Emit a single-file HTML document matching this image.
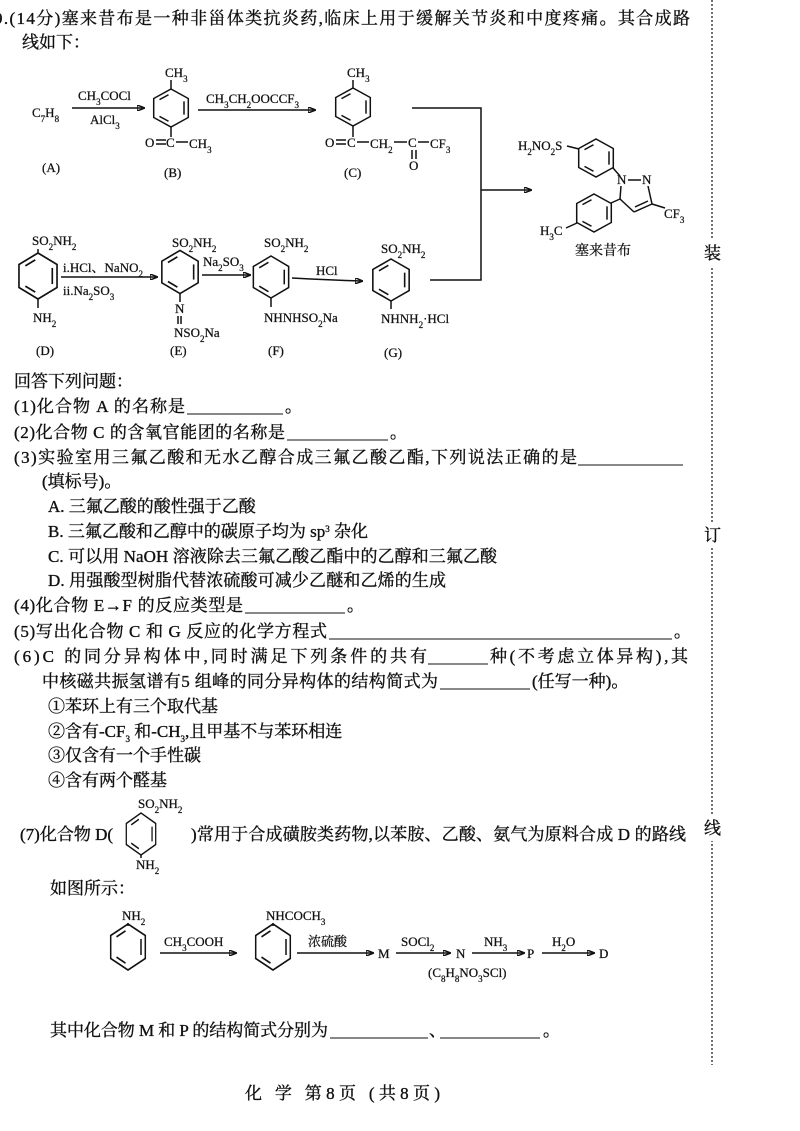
<!DOCTYPE html>
<html><head><meta charset="utf-8"><style>
html,body{margin:0;padding:0;background:#fff}
svg{display:block}
.t{font-family:"Liberation Serif","Noto Serif CJK SC",serif;font-size:17px;fill:#111;stroke:#111;stroke-width:0.35}
.c{font-family:"Liberation Serif","Noto Serif CJK SC",serif;font-size:13px;fill:#111;stroke:#111;stroke-width:0.25}
.b{font-size:9px;baseline-shift:sub}
.p{font-size:9px;baseline-shift:super}
line,polyline,path{stroke:#111;stroke-width:1.5;fill:none}
</style></head><body>
<svg width="800" height="1131" viewBox="0 0 800 1131" xmlns="http://www.w3.org/2000/svg">
<defs>
<symbol id="ring" overflow="visible">
<polygon points="0,-20 17.3,-10 17.3,10 0,20 -17.3,10 -17.3,-10" fill="none" stroke="#111" stroke-width="1.5"/>
<line x1="13" y1="-7" x2="13" y2="7" stroke="#111" stroke-width="1.5"/>
<line x1="-2.5" y1="14" x2="-11.5" y2="8.8" stroke="#111" stroke-width="1.5"/>
<line x1="-11.5" y1="-8.8" x2="-2.5" y2="-14" stroke="#111" stroke-width="1.5"/>
</symbol>
<marker id="ah" markerWidth="8" markerHeight="6" refX="7" refY="3" orient="auto" markerUnits="userSpaceOnUse"><path d="M0,0 L8,3 L0,6 z" fill="#111" stroke="none"/></marker>
</defs>

<text class="t" x="-6" y="24" textLength="696">9.(14分)塞来昔布是一种非甾体类抗炎药,临床上用于缓解关节炎和中度疼痛。其合成路</text>
<text class="t" x="22" y="48">线如下：</text>

<text class="c" x="32" y="117">C<tspan class="b">7</tspan>H<tspan class="b">8</tspan></text>
<line x1="72" y1="108" x2="144" y2="108" marker-end="url(#ah)"/>
<text class="c" x="78" y="100">CH<tspan class="b">3</tspan>COCl</text>
<text class="c" x="90" y="124">AlCl<tspan class="b">3</tspan></text>
<text class="c" x="42" y="172">(A)</text>

<use href="#ring" transform="translate(171,108) scale(1,0.95)"/>
<line x1="171" y1="89" x2="171" y2="80"/>
<text class="c" x="165" y="77">CH<tspan class="b">3</tspan></text>
<line x1="171" y1="127" x2="171" y2="137"/>
<text class="c" x="145" y="147">O</text>
<line x1="156" y1="140" x2="166" y2="140"/><line x1="156" y1="144" x2="166" y2="144"/>
<text class="c" x="166" y="147">C</text>
<line x1="176" y1="142" x2="188" y2="142"/>
<text class="c" x="189" y="148">CH<tspan class="b">3</tspan></text>
<text class="c" x="164" y="177">(B)</text>

<line x1="198" y1="110" x2="315" y2="110" marker-end="url(#ah)"/>
<text class="c" x="206" y="103">CH<tspan class="b">3</tspan>CH<tspan class="b">2</tspan>OOCCF<tspan class="b">3</tspan></text>

<use href="#ring" transform="translate(353,107) scale(1,0.95)"/>
<line x1="353" y1="88" x2="353" y2="80"/>
<text class="c" x="347" y="77">CH<tspan class="b">3</tspan></text>
<line x1="353" y1="126" x2="353" y2="137"/>
<text class="c" x="325" y="147">O</text>
<line x1="336" y1="140" x2="346" y2="140"/><line x1="336" y1="144" x2="346" y2="144"/>
<text class="c" x="347" y="147">C</text>
<line x1="357" y1="142" x2="369" y2="142"/>
<text class="c" x="370" y="148">CH<tspan class="b">2</tspan></text>
<line x1="394" y1="142" x2="407" y2="142"/>
<text class="c" x="408" y="147">C</text>
<line x1="418" y1="142" x2="429" y2="142"/>
<text class="c" x="430" y="148">CF<tspan class="b">3</tspan></text>
<line x1="412" y1="150" x2="412" y2="159"/><line x1="416" y1="150" x2="416" y2="159"/>
<text class="c" x="409" y="170">O</text>
<text class="c" x="344" y="177">(C)</text>

<polyline points="412,108 481,108 481,280 430,280"/>
<line x1="481" y1="190" x2="531" y2="190" marker-end="url(#ah)"/>

<text class="c" x="518" y="150">H<tspan class="b">2</tspan>NO<tspan class="b">2</tspan>S</text>
<line x1="567" y1="146" x2="579" y2="149"/>
<use href="#ring" transform="translate(596,158) scale(1,0.95)"/>
<line x1="613" y1="168" x2="620" y2="176"/>
<text class="c" x="617" y="184">N</text>
<line x1="628" y1="180" x2="641" y2="180"/>
<text class="c" x="642" y="184">N</text>
<line x1="648" y1="186" x2="652" y2="204"/>
<line x1="652" y1="204" x2="634" y2="212"/>
<line x1="648" y1="201" x2="635" y2="207"/>
<line x1="634" y1="212" x2="620" y2="199"/>
<line x1="620" y1="199" x2="621" y2="186"/>
<line x1="652" y1="204" x2="665" y2="208"/>
<text class="c" x="664" y="218">CF<tspan class="b">3</tspan></text>
<line x1="620" y1="199" x2="611" y2="203"/>
<use href="#ring" transform="translate(594,213) scale(1,0.95)"/>
<line x1="577" y1="223" x2="566" y2="228"/>
<text class="c" x="540" y="235">H<tspan class="b">3</tspan>C</text>
<text class="c" x="575" y="255" style="font-size:14px">塞来昔布</text>

<text class="c" x="32" y="245">SO<tspan class="b">2</tspan>NH<tspan class="b">2</tspan></text>
<line x1="38" y1="249" x2="38" y2="253"/>
<use href="#ring" transform="translate(38,276) scale(1.1,1.15)"/>
<line x1="38" y1="299" x2="38" y2="308"/>
<text class="c" x="33" y="322">NH<tspan class="b">2</tspan></text>
<text class="c" x="36" y="355">(D)</text>
<line x1="61" y1="277" x2="157" y2="277" marker-end="url(#ah)"/>
<text class="c" x="63" y="272">i.HCl、NaNO<tspan class="b">2</tspan></text>
<text class="c" x="63" y="295">ii.Na<tspan class="b">2</tspan>SO<tspan class="b">3</tspan></text>

<text class="c" x="172" y="247">SO<tspan class="b">2</tspan>NH<tspan class="b">2</tspan></text>
<use href="#ring" transform="translate(180,272) scale(1.05,1.08)"/>
<line x1="180" y1="294" x2="180" y2="302"/>
<text class="c" x="175" y="313">N</text>
<line x1="178" y1="316" x2="178" y2="324"/><line x1="181" y1="316" x2="181" y2="324"/>
<text class="c" x="174" y="337">NSO<tspan class="b">2</tspan>Na</text>
<text class="c" x="170" y="355">(E)</text>
<line x1="202" y1="275" x2="250" y2="275" marker-end="url(#ah)"/>
<text class="c" x="203" y="266">Na<tspan class="b">2</tspan>SO<tspan class="b">3</tspan></text>

<text class="c" x="264" y="247">SO<tspan class="b">2</tspan>NH<tspan class="b">2</tspan></text>
<use href="#ring" transform="translate(271,277) scale(1.02,1.05)"/>
<line x1="271" y1="298" x2="271" y2="307"/>
<text class="c" x="264" y="322">NHNHSO<tspan class="b">2</tspan>Na</text>
<text class="c" x="268" y="355">(F)</text>
<path d="M292,278 Q330,280 362,281" marker-end="url(#ah)"/>
<text class="c" x="316" y="275">HCl</text>

<text class="c" x="381" y="253">SO<tspan class="b">2</tspan>NH<tspan class="b">2</tspan></text>
<use href="#ring" transform="translate(391,280) scale(1.05,1.05)"/>
<line x1="391" y1="301" x2="391" y2="309"/>
<text class="c" x="381" y="323">NHNH<tspan class="b">2</tspan>·HCl</text>
<text class="c" x="384" y="357">(G)</text>

<text class="t" x="14" y="387">回答下列问题：</text>
<text class="t" x="14" y="412" textLength="171">(1)化合物 A 的名称是</text>
<line x1="187" y1="414" x2="283" y2="414" style="stroke-width:1"/><text class="t" x="285" y="412">。</text>
<text class="t" x="14" y="438" textLength="271">(2)化合物 C 的含氧官能团的名称是</text>
<line x1="287" y1="440" x2="388" y2="440" style="stroke-width:1"/><text class="t" x="390" y="438">。</text>
<text class="t" x="14" y="463" textLength="563">(3)实验室用三氟乙酸和无水乙醇合成三氟乙酸乙酯,下列说法正确的是</text>
<line x1="578" y1="465" x2="683" y2="465" style="stroke-width:1"/>
<text class="t" x="42" y="487">(填标号)。</text>
<text class="t" x="48" y="512">A. 三氟乙酸的酸性强于乙酸</text>
<text class="t" x="48" y="537">B. 三氟乙酸和乙醇中的碳原子均为 sp<tspan class="p">3</tspan> 杂化</text>
<text class="t" x="48" y="562" textLength="449">C. 可以用 NaOH 溶液除去三氟乙酸乙酯中的乙醇和三氟乙酸</text>
<text class="t" x="48" y="586" textLength="398">D. 用强酸型树脂代替浓硫酸可减少乙醚和乙烯的生成</text>
<text class="t" x="14" y="611" textLength="229">(4)化合物 E→F 的反应类型是</text>
<line x1="245" y1="613" x2="345" y2="613" style="stroke-width:1"/><text class="t" x="347" y="611">。</text>
<text class="t" x="14" y="637" textLength="313">(5)写出化合物 C 和 G 反应的化学方程式</text>
<line x1="329" y1="639" x2="672" y2="639" style="stroke-width:1"/><text class="t" x="674" y="637">。</text>
<text class="t" x="14" y="662" textLength="413">(6)C 的同分异构体中,同时满足下列条件的共有</text>
<line x1="428" y1="664" x2="488" y2="664" style="stroke-width:1"/>
<text class="t" x="490" y="662" textLength="198">种(不考虑立体异构),其</text>
<text class="t" x="42" y="687" textLength="396">中核磁共振氢谱有5 组峰的同分异构体的结构简式为</text>
<line x1="440" y1="689" x2="530" y2="689" style="stroke-width:1"/>
<text class="t" x="532" y="687">(任写一种)。</text>
<text class="t" x="48" y="712">①苯环上有三个取代基</text>
<text class="t" x="48" y="737">②含有-CF<tspan class="b">3</tspan> 和-CH<tspan class="b">3</tspan>,且甲基不与苯环相连</text>
<text class="t" x="48" y="761">③仅含有一个手性碳</text>
<text class="t" x="48" y="786">④含有两个醛基</text>

<text class="c" x="138" y="808">SO<tspan class="b">2</tspan>NH<tspan class="b">2</tspan></text>
<use href="#ring" transform="translate(141,834) scale(0.85,1.05)"/>
<line x1="141" y1="855" x2="141" y2="858"/>
<text class="c" x="136" y="869">NH<tspan class="b">2</tspan></text>
<text class="t" x="20" y="840">(7)化合物 D(</text>
<text class="t" x="191" y="840" textLength="495">)常用于合成磺胺类药物,以苯胺、乙酸、氨气为原料合成 D 的路线</text>
<text class="t" x="50" y="894">如图所示：</text>

<text class="c" x="122" y="920">NH<tspan class="b">2</tspan></text>
<line x1="128" y1="923" x2="128" y2="926"/>
<use href="#ring" transform="translate(128,947) scale(1,1.15)"/>
<line x1="160" y1="953" x2="236" y2="953" marker-end="url(#ah)"/>
<text class="c" x="164" y="946">CH<tspan class="b">3</tspan>COOH</text>
<text class="c" x="266" y="920">NHCOCH<tspan class="b">3</tspan></text>
<line x1="273" y1="923" x2="273" y2="926"/>
<use href="#ring" transform="translate(273,947) scale(1,1.15)"/>
<line x1="297" y1="953" x2="373" y2="953" marker-end="url(#ah)"/>
<text class="c" x="308" y="946">浓硫酸</text>
<text class="c" x="378" y="958">M</text>
<line x1="396" y1="953" x2="450" y2="953" marker-end="url(#ah)"/>
<text class="c" x="401" y="946">SOCl<tspan class="b">2</tspan></text>
<text class="c" x="456" y="958">N</text>
<line x1="472" y1="953" x2="524" y2="953" marker-end="url(#ah)"/>
<text class="c" x="484" y="946">NH<tspan class="b">3</tspan></text>
<text class="c" x="527" y="958">P</text>
<line x1="542" y1="953" x2="594" y2="953" marker-end="url(#ah)"/>
<text class="c" x="552" y="946">H<tspan class="b">2</tspan>O</text>
<text class="c" x="599" y="958">D</text>
<text class="c" x="428" y="977">(C<tspan class="b">8</tspan>H<tspan class="b">8</tspan>NO<tspan class="b">3</tspan>SCl)</text>

<text class="t" x="50" y="1036" textLength="278">其中化合物 M 和 P 的结构简式分别为</text>
<line x1="330" y1="1038" x2="428" y2="1038" style="stroke-width:1"/>
<text class="t" x="429" y="1036">、</text>
<line x1="440" y1="1038" x2="540" y2="1038" style="stroke-width:1"/>
<text class="t" x="543" y="1036">。</text>

<text class="t" x="245" y="1099" textLength="195">化  学  第8页  (共8页)</text>

<line x1="712" y1="0" x2="712" y2="1065" style="stroke-width:1.2;stroke-dasharray:2,2"/>
<rect x="702" y="240" width="20" height="26" fill="#fff"/>
<text class="t" x="704" y="259">装</text>
<rect x="702" y="522" width="20" height="26" fill="#fff"/>
<text class="t" x="704" y="541">订</text>
<rect x="702" y="815" width="20" height="26" fill="#fff"/>
<text class="t" x="704" y="834">线</text>
</svg>
</body></html>
